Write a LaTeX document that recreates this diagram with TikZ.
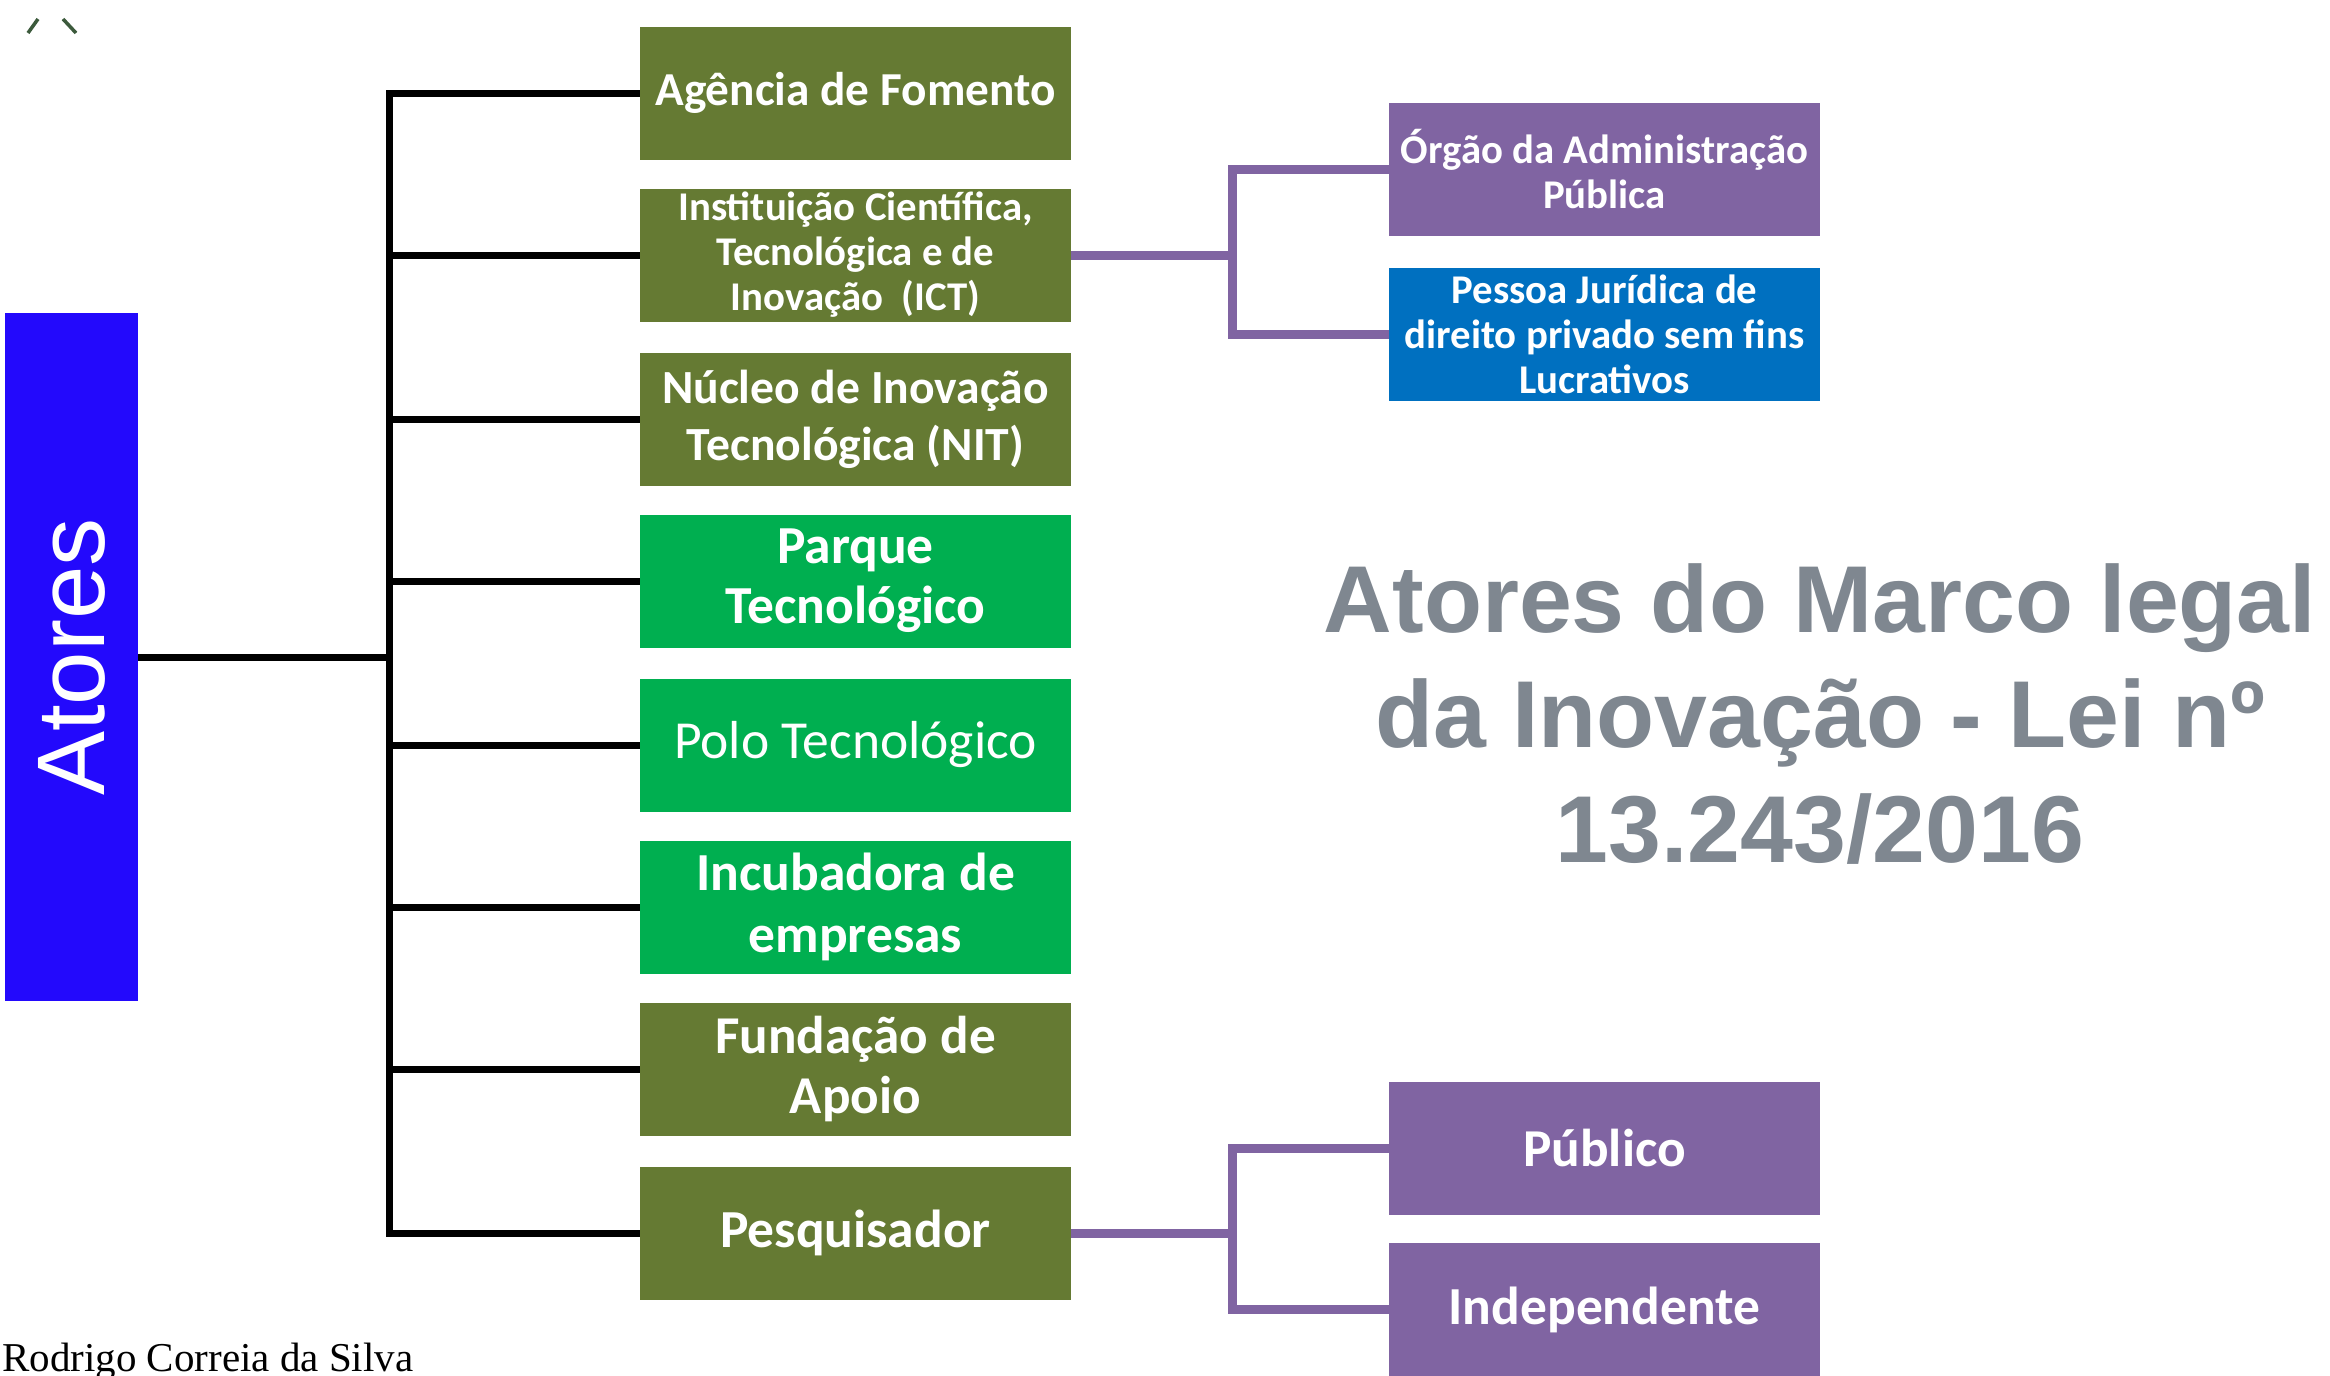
\documentclass[tikz,border=0pt]{standalone}
\usepackage{fontspec}
\setmainfont{Carlito}
\newfontfamily\arialf{Liberation Sans}
\newfontfamily\timesf{Liberation Serif}
\newcommand{\fsz}[2]{\fontsize{#1}{#2}\selectfont}
\definecolor{oliveC}{HTML}{657A33}
\definecolor{greenC}{HTML}{00AF50}
\definecolor{purpleC}{HTML}{8064A2}
\definecolor{blueC}{HTML}{0070C0}
\definecolor{atoresC}{HTML}{2309FC}
\definecolor{titleC}{HTML}{7F8790}
\definecolor{markC}{HTML}{3C5A3C}
\begin{document}
\begin{tikzpicture}[x=1pt,y=-1pt,
  box/.style={rectangle, minimum width=431pt, minimum height=133pt, inner sep=0pt,
    text=white, align=center},
  olivebox/.style={box, fill=oliveC},
  greenbox/.style={box, fill=greenC},
  purplebox/.style={box, fill=purpleC},
  bluebox/.style={box, fill=blueC},
  blackline/.style={line width=7pt, black},
  purpleline/.style={line width=9pt, purpleC},
  markline/.style={line width=3.5pt, markC}]
\useasboundingbox (0,0) rectangle (2330,1376);
\fill[white] (0,0) rectangle (2330,1376);

% left column
\node[rectangle, fill=atoresC, minimum width=133pt, minimum height=688pt, inner sep=0pt] (atores) at (71.5,657) {};
\node[rotate=90, text=white, inner sep=0pt, font=\arialf\fsz{96}{96}] (atorestext) at (atores.center) {Atores};

% green column
\node[olivebox, font=\bfseries\fsz{47.3}{57}] (ag) at (855.5,93) {Agência de Fomento};
\node[olivebox, font=\bfseries\fsz{40.8}{45}] (ict) at (855.5,255) {Instituição Científica,\\Tecnológica e de\\Inovação\ \ (ICT)};
\node[olivebox, font=\bfseries\fsz{47.6}{57}] (nit) at (855.5,419) {Núcleo de Inovação\\Tecnológica (NIT)};
\node[greenbox, font=\bfseries\fsz{53.5}{60}] (parque) at (855.5,581) {Parque\\Tecnológico};
\node[greenbox, font=\fsz{53.5}{60}] (polo) at (855.5,745) {Polo Tecnológico};
\node[greenbox, font=\bfseries\fsz{53.5}{62}] (incub) at (855.5,907) {Incubadora de\\empresas};
\node[olivebox, font=\bfseries\fsz{53.2}{60}] (fund) at (855.5,1069) {Fundação de\\Apoio};
\node[olivebox, font=\bfseries\fsz{53.5}{60}] (pesq) at (855.5,1233) {Pesquisador};

% right column
\node[purplebox, font=\bfseries\fsz{40.8}{45}] (orgao) at (1604.5,169) {Órgão da Administração\\Pública};
\node[bluebox, font=\bfseries\fsz{40.8}{45}] (pessoa) at (1604.5,334) {Pessoa Jurídica de\\direito privado sem fins\\Lucrativos};
\node[purplebox, font=\bfseries\fsz{53.3}{60}] (publico) at (1604.5,1148) {Público};
\node[purplebox, font=\bfseries\fsz{53.5}{60}] (indep) at (1604.5,1309.5) {Independente};

% title
\node[text=titleC, align=center, inner sep=0pt, font=\arialf\bfseries\fsz{95}{115}] (title) at (1820,714) {Atores do Marco legal\\da Inovação - Lei nº\\13.243/2016};

% author
\node[anchor=base west, inner sep=0pt, font=\timesf\fsz{41}{48}] (author) at (2,1371) {Rodrigo Correia da Silva};

% black tree
\coordinate (t) at (389,657);
\draw[blackline] (atores.east) -- (t);
\draw[blackline] (ag.west) -| (t) |- (pesq.west);
\foreach \n in {ict,nit,parque,polo,incub,fund}
  \draw[blackline] (t |- \n.west) -- (\n.west);

% purple connectors
\coordinate (j1) at (1232,255);
\draw[purpleline] (ict.east) -- (j1);
\draw[purpleline] (orgao.west) -| (j1) |- (pessoa.west);
\coordinate (j2) at (1232,1233);
\draw[purpleline] (pesq.east) -- (j2);
\draw[purpleline] (publico.west) -| (j2) |- (indep.west);

% top-left marks
\draw[markline] (38,19) -- (28,33);
\draw[markline] (63,19) -- (76,33);
\end{tikzpicture}
\end{document}
